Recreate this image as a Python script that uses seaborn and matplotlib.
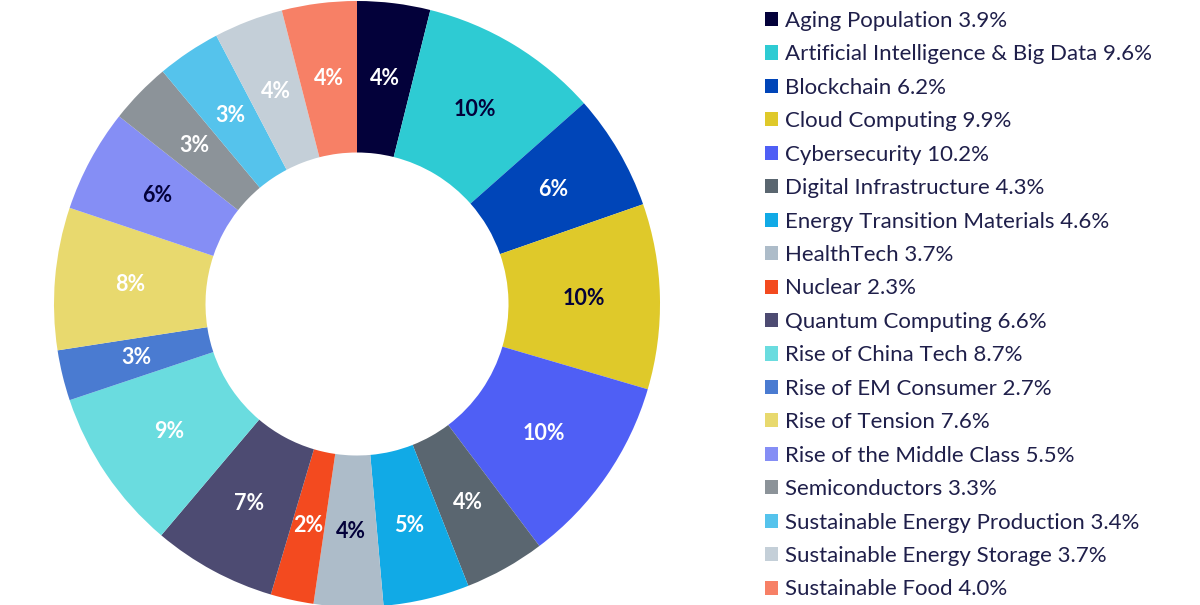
import matplotlib
matplotlib.use("Agg")
import numpy as np
import matplotlib.pyplot as plt
import seaborn as sns
from matplotlib.patches import Patch

categories = ["Aging Population", "Artificial Intelligence & Big Data", "Blockchain",
              "Cloud Computing", "Cybersecurity", "Digital Infrastructure",
              "Energy Transition Materials", "HealthTech", "Nuclear", "Quantum Computing",
              "Rise of China Tech", "Rise of EM Consumer", "Rise of Tension",
              "Rise of the Middle Class", "Semiconductors", "Sustainable Energy Production",
              "Sustainable Energy Storage", "Sustainable Food"]
values = [3.9, 9.6, 6.2, 9.9, 10.2, 4.3, 4.6, 3.7, 2.3, 6.6, 8.7, 2.7, 7.6, 5.5, 3.3, 3.4, 3.7, 4.0]
slice_labels = ["4%", "10%", "6%", "10%", "10%", "4%", "5%", "4%", "2%", "7%",
                "9%", "3%", "8%", "6%", "3%", "3%", "4%", "4%"]
colors = ["#03013a", "#2ecbd3", "#0045b8", "#dfc92a", "#4f5ff5", "#5a6670",
          "#11aae6", "#adbcc9", "#f34a1f", "#4d4b72", "#6adcdf", "#4a7bd1",
          "#e8d96e", "#858ef5", "#8c9399", "#55c3ec", "#c4cfd8", "#f78066"]
label_colors = ["white", "#03013a", "white", "#03013a", "white", "white",
                "white", "#03013a", "white", "white", "white", "white",
                "white", "#03013a", "white", "white", "white", "white"]

sns.set_theme(style="white")
plt.rcParams["font.family"] = ["Lato", "DejaVu Sans"]

fig = plt.figure(figsize=(12, 6.05), dpi=100)
ax = fig.add_axes([54 / 1200, -2 / 605, 606 / 1200, 606 / 605])
wedges, texts = ax.pie(values, colors=colors, startangle=90, counterclock=False,
                       radius=1.0, wedgeprops=dict(width=0.5, linewidth=0))
for w, lab, c in zip(wedges, slice_labels, label_colors):
    ang = np.deg2rad((w.theta1 + w.theta2) / 2)
    r = 0.75
    ax.text(r * np.cos(ang), r * np.sin(ang), lab, ha="center", va="center",
            fontsize=15.5, fontweight="bold", color=c)
ax.set_xlim(-1, 1)
ax.set_ylim(-1, 1)
ax.set_aspect("equal")
ax.axis("off")

handles = [Patch(facecolor=c, edgecolor="none") for c in colors]
labels = [f"{n} {v:.1f}%" for n, v in zip(categories, values)]
fig.legend(handles, labels, loc="upper left", bbox_to_anchor=(756 / 1200, 1 - 2 / 605),
           frameon=False, fontsize=16, labelcolor="#1f1f4a", handlelength=0.6,
           handleheight=0.6, handletextpad=0.3, labelspacing=0.605, borderaxespad=0)

fig.savefig("out.png", dpi=100, facecolor="white")
